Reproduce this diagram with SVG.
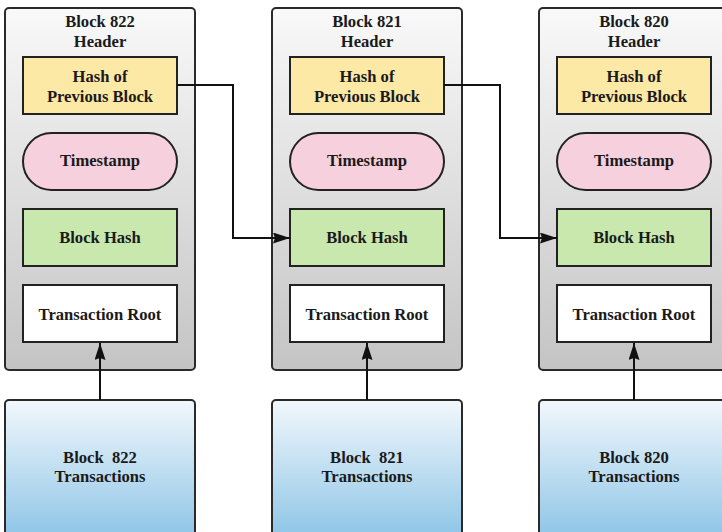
<svg xmlns="http://www.w3.org/2000/svg" width="722" height="532" viewBox="0 0 722 532">
<defs>
<linearGradient id="hdr" x1="0" y1="0" x2="0" y2="1">
<stop offset="0" stop-color="#f9f9f9"/>
<stop offset="1" stop-color="#c4c4c4"/>
</linearGradient>
<linearGradient id="tx" x1="0" y1="0" x2="0" y2="1">
<stop offset="0" stop-color="#f2f8fc"/>
<stop offset="1" stop-color="#8cc4e6"/>
</linearGradient>
<marker id="ah" viewBox="0 0 17 11" refX="17" refY="5.5" markerWidth="17" markerHeight="11" markerUnits="userSpaceOnUse" orient="auto">
<path d="M0,0 L17,5.5 L0,11 L2,5.5 Z" fill="#111"/>
</marker>
</defs>
<style>
.outer{fill:url(#hdr);stroke:#2a2a2a;stroke-width:2}
.txb{fill:url(#tx);stroke:#2a2a2a;stroke-width:2}
.hash{fill:#fde9a6;stroke:#222;stroke-width:2}
.ts{fill:#f6d0dc;stroke:#222;stroke-width:2}
.bh{fill:#c8e8ad;stroke:#222;stroke-width:2}
.tr{fill:#ffffff;stroke:#222;stroke-width:2}
text{font-family:"Liberation Serif","Times New Roman",serif;font-weight:bold;font-size:16.6px;fill:#1a1a1a;text-anchor:middle;white-space:pre}
.c{fill:none;stroke:#111;stroke-width:2}
</style>
<rect width="722" height="532" fill="#ffffff"/>

<g id="block822">
<rect class="outer" x="5" y="8" width="190" height="362" rx="4"/>
<text x="100" y="27">Block 822</text>
<text x="100" y="47">Header</text>
<g id="hash822"><rect class="hash" x="23" y="57" width="154" height="57"/><text x="100" y="82">Hash of</text><text x="100" y="102">Previous Block</text></g>
<g id="ts822"><rect class="ts" x="23" y="133" width="154" height="57" rx="28.5"/><text x="100" y="166">Timestamp</text></g>
<g id="bh822"><rect class="bh" x="23" y="209" width="154" height="57"/><text x="100" y="243">Block Hash</text></g>
<g id="tr822"><rect class="tr" x="23" y="285" width="154" height="57"/><text x="100" y="320">Transaction Root</text></g>
</g>
<g id="tx822">
<rect class="txb" x="5" y="400" width="190" height="140" rx="4"/>
<text x="100" y="463">Block  822</text>
<text x="100" y="482">Transactions</text>
</g>

<g id="block821">
<rect class="outer" x="272" y="8" width="190" height="362" rx="4"/>
<text x="367" y="27">Block 821</text>
<text x="367" y="47">Header</text>
<g id="hash821"><rect class="hash" x="290" y="57" width="154" height="57"/><text x="367" y="82">Hash of</text><text x="367" y="102">Previous Block</text></g>
<g id="ts821"><rect class="ts" x="290" y="133" width="154" height="57" rx="28.5"/><text x="367" y="166">Timestamp</text></g>
<g id="bh821"><rect class="bh" x="290" y="209" width="154" height="57"/><text x="367" y="243">Block Hash</text></g>
<g id="tr821"><rect class="tr" x="290" y="285" width="154" height="57"/><text x="367" y="320">Transaction Root</text></g>
</g>
<g id="tx821">
<rect class="txb" x="272" y="400" width="190" height="140" rx="4"/>
<text x="367" y="463">Block  821</text>
<text x="367" y="482">Transactions</text>
</g>

<g id="block820">
<rect class="outer" x="539" y="8" width="190" height="362" rx="4"/>
<text x="634" y="27">Block 820</text>
<text x="634" y="47">Header</text>
<g id="hash820"><rect class="hash" x="557" y="57" width="154" height="57"/><text x="634" y="82">Hash of</text><text x="634" y="102">Previous Block</text></g>
<g id="ts820"><rect class="ts" x="557" y="133" width="154" height="57" rx="28.5"/><text x="634" y="166">Timestamp</text></g>
<g id="bh820"><rect class="bh" x="557" y="209" width="154" height="57"/><text x="634" y="243">Block Hash</text></g>
<g id="tr820"><rect class="tr" x="557" y="285" width="154" height="57"/><text x="634" y="320">Transaction Root</text></g>
</g>
<g id="tx820">
<rect class="txb" x="539" y="400" width="190" height="140" rx="4"/>
<text x="634" y="463">Block 820</text>
<text x="634" y="482">Transactions</text>
</g>

<g id="connectors">
<path class="c" d="M177,85 H233 V238 H290" marker-end="url(#ah)"/>
<path class="c" d="M444,85 H500 V238 H557" marker-end="url(#ah)"/>
<path class="c" d="M100,400 V343" marker-end="url(#ah)"/>
<path class="c" d="M367,400 V343" marker-end="url(#ah)"/>
<path class="c" d="M634,400 V343" marker-end="url(#ah)"/>
</g>
</svg>
